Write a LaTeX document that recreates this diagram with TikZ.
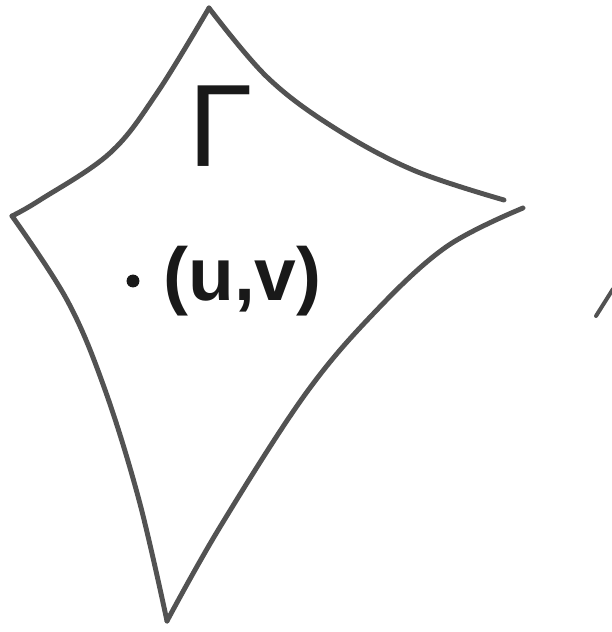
\documentclass[tikz,border=0pt]{standalone}
\usepackage{fontspec}
\setmainfont{Liberation Sans}
\usetikzlibrary{positioning}

\begin{document}
\begin{tikzpicture}[x=0.03cm,y=-0.03cm,
  edge/.style={draw=black!68,line width=4.2pt,line cap=round,line join=round},
  lab/.style={inner sep=0pt,text=black!90}]
\useasboundingbox (0,0) rectangle (612,632);
% corners of the patch
\coordinate (top) at (209,8);
\coordinate (lft) at (12,216);
\coordinate (bot) at (167,621);
\coordinate (rgtA) at (504,200);
\coordinate (rgtB) at (523,208);
% the four bent sides
\draw[edge] plot[smooth,tension=0.6] coordinates {(top) (157,93) (110,153) (40,200) (lft)};
\draw[edge] plot[smooth,tension=0.6] coordinates {(lft) (67,300) (104,387) (139,500) (bot)};
\draw[edge] plot[smooth,tension=0.6] coordinates {(bot) (220,527) (304,396) (373,314) (446,247) (rgtB)};
\draw[edge] plot[smooth,tension=0.6] coordinates {(top) (267,77) (333,127) (413,170) (rgtA)};
% labels
\node[lab,font=\fontsize{100}{100}\selectfont] (gam) at (221,126) {Γ};
\node[circle,fill=black!90,inner sep=0pt,minimum size=11pt] (pt) at (133,281) {};
\node[lab,font=\bfseries\fontsize{64}{64}\selectfont,right=30 of pt.center,anchor=west] (uv) {(u,v)};
% stroke cut by the right edge
\coordinate (cutA) at (596,316);
\coordinate (cutB) at (613,289);
\draw[edge,line width=3.4pt] (cutA) -- (cutB);
\end{tikzpicture}
\end{document}
